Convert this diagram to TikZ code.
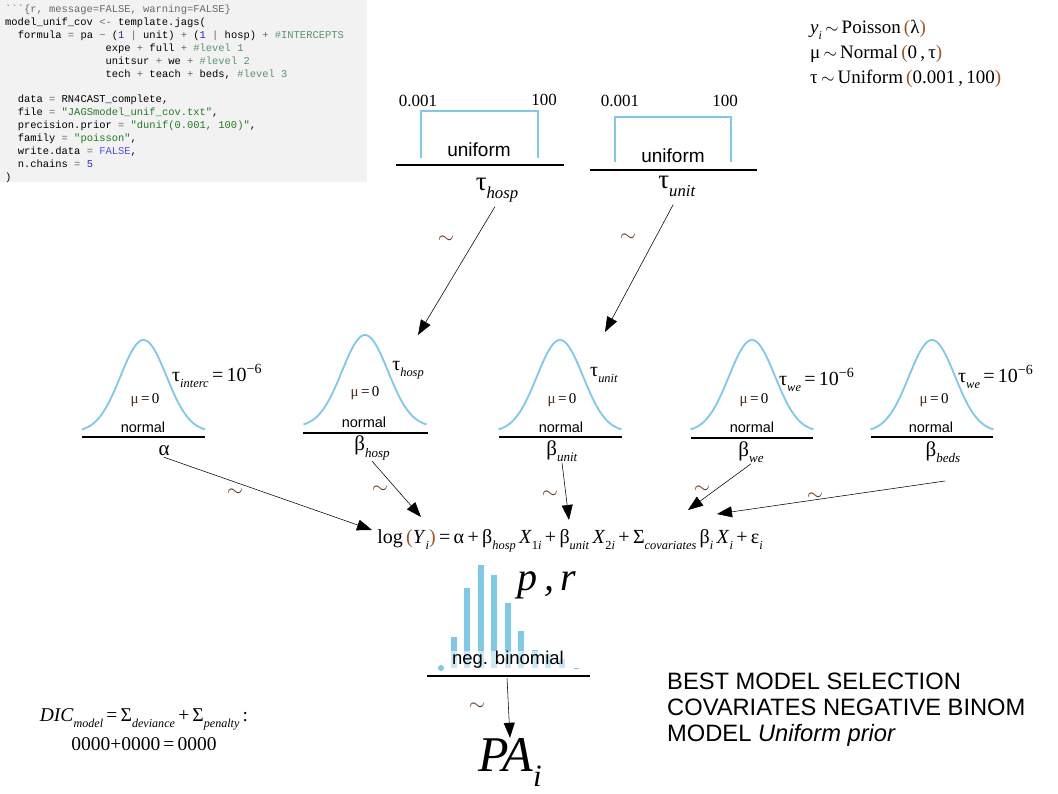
\documentclass[tikz,border=0pt]{standalone}
\usepackage{fontspec}
\setmainfont{Liberation Serif}
\newfontfamily\sansf{Liberation Sans}
\newfontfamily\codef{Liberation Mono}[Ligatures=TeXOff]
\usetikzlibrary{arrows.meta}
\definecolor{skyb}{RGB}{126,200,232}
\definecolor{brn}{RGB}{160,85,35}
\definecolor{dbrn}{RGB}{80,45,20}
\definecolor{tild}{RGB}{105,60,30}
\definecolor{codebg}{RGB}{242,242,242}
\definecolor{cgray}{RGB}{105,105,105}
\definecolor{cnum}{RGB}{40,40,210}
\definecolor{cfal}{RGB}{80,80,250}
\definecolor{cstr}{RGB}{30,125,30}
\definecolor{ccom}{RGB}{85,150,110}
\newcommand\sbs[1]{\raisebox{-0.3em}{\scalebox{0.62}{#1}}}
\newcommand\brp[1]{\textcolor{brn}{#1}}
\newcommand\cop[1]{\textcolor{cgray}{#1}}
\newcommand\cnm[1]{\textcolor{cnum}{#1}}
\newcommand\cst[1]{\textcolor{cstr}{#1}}
\newcommand\ccm[1]{\textcolor{ccom}{#1}}
\newcommand\cfl[1]{\textcolor{cfal}{#1}}
\newcommand\mz{\textcolor{dbrn}{μ}\,=\,0}
\begin{document}
\begin{tikzpicture}[x=1pt,y=-1pt,
  code/.style={anchor=base west,inner sep=0pt,font=\codef\fontsize{10.45}{12}\selectfont},
  arr/.style={-{Triangle[length=15pt,width=11pt]},line width=0.55pt,black},
  tl/.style={text=tild,inner sep=0pt,font=\fontsize{21}{21}\selectfont},
  skyline/.style={draw=skyb,line width=1.8pt},
  baseln/.style={line width=1.1pt,black},
  numl/.style={inner sep=0pt,font=\fontsize{17}{17}\selectfont},
  unil/.style={inner sep=0pt,font=\sansf\fontsize{19}{19}\selectfont},
  norml/.style={inner sep=0pt,font=\sansf\fontsize{14.5}{14.5}\selectfont},
  mul/.style={inner sep=0pt,font=\fontsize{15}{15}\selectfont},
  taul/.style={inner sep=0pt,font=\fontsize{20}{20}\selectfont},
  betal/.style={inner sep=1pt,font=\fontsize{21}{21}\selectfont},
  bigtau/.style={inner sep=1pt,font=\fontsize{27}{27}\selectfont},
  gauss/.pic={\draw[skyline] plot[domain=-61.5:61.5,samples=60,smooth] (\x,{-92*exp(-0.5*(\x/23)*(\x/23))});}
]
\useasboundingbox (0,0) rectangle (1058,794);
\fill[white] (0,0) rectangle (1058,794);

% ---------------- code block
\fill[codebg] (0,0) rectangle (367,182);
\node[code] (k1) at (5,13) {\cop{```\{r, message=FALSE, warning=FALSE\}}};
\node[code] (k2) at (5,25.9) {model\_unif\_cov \cop{<-} template.jags(};
\node[code] (k3) at (17.6,38.7) {formula \cop{=} pa \cop{\textasciitilde} (\cnm{1} \cop{|} unit) \cop{+} (\cnm{1} \cop{|} hosp) \cop{+} \ccm{\#INTERCEPTS}};
\node[code] (k4) at (105.4,51.6) {expe \cop{+} full \cop{+} \ccm{\#level 1}};
\node[code] (k5) at (105.4,64.4) {unitsur \cop{+} we \cop{+} \ccm{\#level 2}};
\node[code] (k6) at (105.4,77.3) {tech \cop{+} teach \cop{+} beds, \ccm{\#level 3}};
\node[code] (k8) at (17.6,103) {data \cop{=} RN4CAST\_complete,};
\node[code] (k9) at (17.6,115.9) {file \cop{=} \cst{"JAGSmodel\_unif\_cov.txt"},};
\node[code] (k10) at (17.6,128.7) {precision.prior \cop{=} \cst{"dunif(0.001, 100)"},};
\node[code] (k11) at (17.6,141.6) {family \cop{=} \cst{"poisson"},};
\node[code] (k12) at (17.6,154.4) {write.data \cop{=} \cfl{FALSE},};
\node[code] (k13) at (17.6,167.3) {n.chains \cop{=} \cnm{5}};
\node[code] (k14) at (5,180.1) {)};

% ---------------- model summary top right
\node[anchor=base west,inner sep=0pt,font=\fontsize{19}{19}\selectfont] (m1) at (810,34) {\textit{y}\sbs{\textit{i}}\,$\sim$\,Poisson\,\brp{(}λ\brp{)}};
\node[anchor=base west,inner sep=0pt,font=\fontsize{19}{19}\selectfont] (m2) at (810,59) {μ\,$\sim$\,Normal\,\brp{(}0\,,\,τ\brp{)}};
\node[anchor=base west,inner sep=0pt,font=\fontsize{19}{19}\selectfont] (m3) at (810,84) {τ\,$\sim$\,Uniform\,\brp{(}0.001\,,\,100\brp{)}};

% ---------------- uniform priors
\draw[skyline] (421,158) -- (421,111) -- (538,111) -- (538,158);
\draw[baseln] (396,165) -- (564,165);
\node[numl] (ua1) at (418,101) {0.001};
\node[numl] (ub1) at (544,100) {100};
\node[unil] (uu1) at (479,150) {uniform};
\node[bigtau] (th) at (497,190) {τ\sbs{\textit{hosp}}};

\draw[skyline] (615,162) -- (615,117) -- (731,117) -- (731,162);
\draw[baseln] (590,170) -- (757,170);
\node[numl] (ua2) at (620,101) {0.001};
\node[numl] (ub2) at (725,101) {100};
\node[unil] (uu2) at (673,156) {uniform};
\node[bigtau] (tu) at (677,186) {τ\sbs{\textit{unit}}};

% ---------------- normal priors
\pic at (143.5,432) {gauss};
\draw[baseln] (82,437) -- (205,437);
\node[mul] (mu1) at (145,400) {\mz};
\node[norml] (n1) at (143,427) {normal};
\node[betal] (al) at (164,451) {α};
\node[taul,anchor=west] (t1) at (172,376) {τ\sbs{\textit{interc}}\,=\,10\textsuperscript{−6}};

\pic at (365,427) {gauss};
\draw[baseln] (303,433) -- (428,433);
\node[mul] (mu2) at (365,393) {\mz};
\node[norml] (n2) at (364,422) {normal};
\node[betal] (bh) at (372,448) {β\sbs{\textit{hosp}}};
\node[taul] (t2) at (408,370) {τ\sbs{\textit{hosp}}};

\pic at (560,432) {gauss};
\draw[baseln] (499,437) -- (622,437);
\node[mul] (mu3) at (562,400) {\mz};
\node[norml] (n3) at (561,427) {normal};
\node[betal] (bu) at (562,451) {β\sbs{\textit{unit}}};
\node[taul] (t3) at (604,375) {τ\sbs{\textit{unit}}};

\pic at (752,432) {gauss};
\draw[baseln] (691,438) -- (813,438);
\node[mul] (mu4) at (754,400) {\mz};
\node[norml] (n4) at (752,427) {normal};
\node[betal] (bw) at (751,452) {β\sbs{\textit{we}}};
\node[taul,anchor=west] (t4) at (779,380) {τ\sbs{\textit{we}}\,=\,10\textsuperscript{−6}};

\pic at (932,432) {gauss};
\draw[baseln] (871,437) -- (993,437);
\node[mul] (mu5) at (934,400) {\mz};
\node[norml] (n5) at (931,427) {normal};
\node[betal] (bb) at (943,452) {β\sbs{\textit{beds}}};
\node[taul,anchor=west] (t5) at (958,377) {τ\sbs{\textit{we}}\,=\,10\textsuperscript{−6}};

% ---------------- hyperprior arrows
\coordinate (thtip) at (418,335);
\coordinate (tutip) at (605,332);
\draw[arr,shorten <=4pt] (th.south) -- (thtip);
\draw[arr,shorten <=8pt] (tu.south) -- (tutip);
\node[tl] (s1) at (446,240) {$\sim$};
\node[tl] (s2) at (628,238) {$\sim$};

% ---------------- linear predictor
\node[inner sep=0pt,anchor=base,font=\fontsize{20}{20}\selectfont] (eq) at (570,543)
 {log\,\brp{(}\textit{Y}\sbs{\textit{i}}\brp{)}\,=\,α\,+\,β\sbs{\textit{hosp}}\,\textit{X}\sbs{1\textit{i}}\,+\,β\sbs{\textit{unit}}\,\textit{X}\sbs{2\textit{i}}\,+\,Σ\sbs{\textit{covariates}}\,β\sbs{\textit{i}}\,\textit{X}\sbs{\textit{i}}\,+\,ε\sbs{\textit{i}}};
\coordinate (ea) at (372,530);
\coordinate (eh) at (421,517);
\coordinate (eu) at (569,520);
\coordinate (ew) at (688,510);
\coordinate (eb) at (717,514);
\coordinate (bbs) at (945,481);
\draw[arr] (al.south) -- (ea);
\draw[arr] (bh.south) -- (eh);
\draw[arr] (bu.south) -- (eu);
\draw[arr] (bw.south) -- (ew);
\draw[arr] (bbs) -- (eb);
\node[tl] (s3) at (235,493) {$\sim$};
\node[tl] (s4) at (380,490) {$\sim$};
\node[tl] (s5) at (550,495) {$\sim$};
\node[tl] (s6) at (702,490) {$\sim$};
\node[tl] (s7) at (815,497) {$\sim$};

% ---------------- negative binomial likelihood
\foreach \bx/\by in {454/637,467/588,481/565,494/575,508/603,521/631,535/650,548/654,562/659}
  \fill[skyb] (\bx-2.6,\by) rectangle (\bx+2.6,668);
\fill[skyb] (441,668) circle (3);
\fill[skyb] (574,667.5) rectangle (579,669);
\node[inner sep=0pt,fill=white,fill opacity=0.6,text opacity=1,minimum width=124pt,minimum height=18pt,
      font=\sansf\fontsize{18.5}{18.5}\selectfont] (nb) at (508,660) {neg. binomial};
\draw[baseln] (427,676) -- (590,676);
\node[inner sep=0pt,font=\fontsize{40}{40}\selectfont\itshape] (pr) at (547,585) {p\,,\,r};
\coordinate (nbs) at (507,678);
\node[inner sep=0pt,font=\fontsize{50}{50}\selectfont] (pa) at (510,762) {\textit{PA}\sbs{\textit{i}}};
\draw[arr] (nbs) -- (pa.north);
\node[tl] (s8) at (477,707) {$\sim$};

% ---------------- DIC
\node[inner sep=0pt,font=\fontsize{19.5}{19.5}\selectfont] (dic) at (144,719)
 {\textit{DIC}\sbs{\textit{model}}\,=\,Σ\sbs{\textit{deviance}}\,+\,Σ\sbs{\textit{penalty}}\,:};
\node[inner sep=0pt,font=\fontsize{19.5}{19.5}\selectfont] (dicv) at (144,744) {0000+0000\,=\,0000};

% ---------------- title
\node[anchor=north west,align=left,inner sep=0pt,font=\sansf\fontsize{23.7}{26}\selectfont] (ttl) at (667,673)
 {BEST MODEL SELECTION\\COVARIATES NEGATIVE BINOM\\MODEL \textit{Uniform prior}};
\end{tikzpicture}
\end{document}
